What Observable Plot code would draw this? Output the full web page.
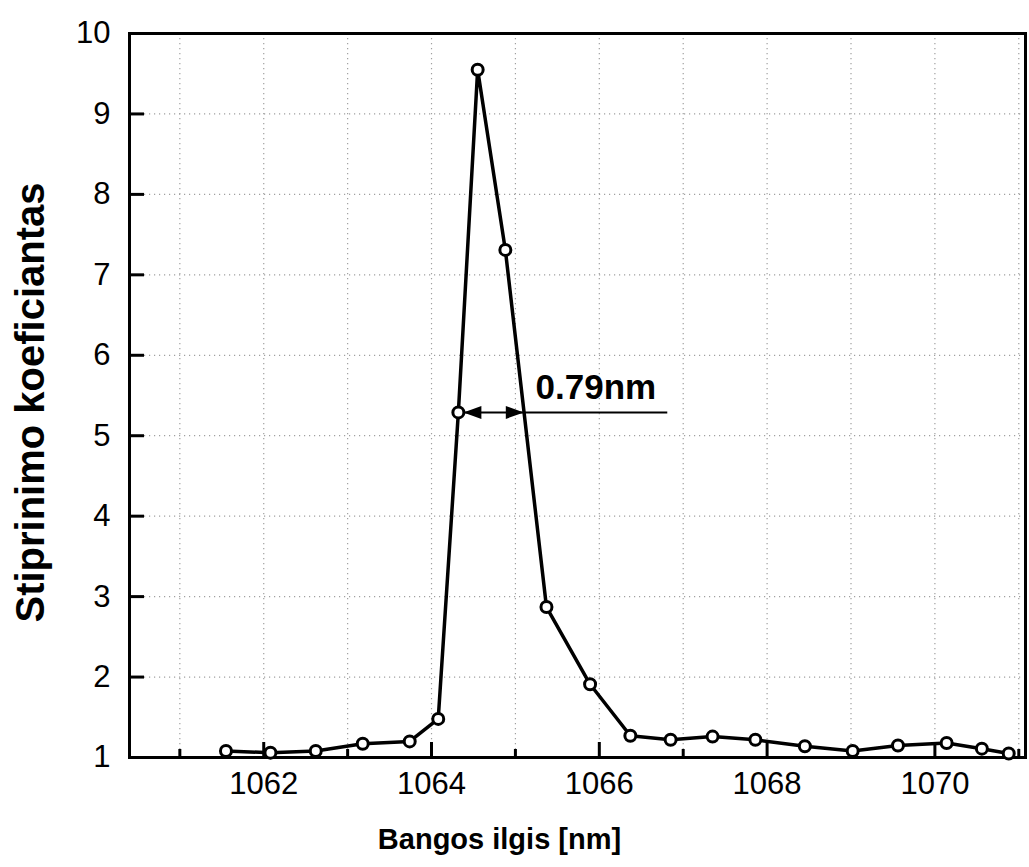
<!DOCTYPE html>
<html><head><meta charset="utf-8">
<script src="https://cdn.jsdelivr.net/npm/d3@7"></script>
<script src="https://cdn.jsdelivr.net/npm/@observablehq/plot@0.6"></script>
<style>
body{margin:0;background:#fff;}
#chart svg{display:block;}
</style>
</head><body><div id="chart"></div>
<script>
// ---- data ----
const wavelength = [1061.55, 1062.08, 1062.62, 1063.18, 1063.74, 1064.08, 1064.32, 1064.55, 1064.88, 1065.37, 1065.89, 1066.37, 1066.85, 1067.35, 1067.86, 1068.45, 1069.02, 1069.56, 1070.14, 1070.56, 1070.88];
const gain = [1.08, 1.06, 1.08, 1.17, 1.20, 1.48, 5.29, 9.55, 7.31, 2.87, 1.91, 1.27, 1.22, 1.26, 1.22, 1.14, 1.08, 1.15, 1.18, 1.11, 1.05];
const xTickLabels = [1062, 1064, 1066, 1068, 1070];
const xMinorTicks = [1061, 1063, 1065, 1067, 1069, 1071];
const xGridValues = [1061, 1062, 1063, 1064, 1065, 1066, 1067, 1068, 1069, 1070, 1071];
const yTickLabels = [1, 2, 3, 4, 5, 6, 7, 8, 9, 10];
const yGridValues = [2, 3, 4, 5, 6, 7, 8, 9];
const xDomain = [1060.4, 1071.08];
const yDomain = [1, 10];
const xTitle = "Bangos ilgis [nm]";
const yTitle = "Stiprinimo koeficiantas";
const fwhmLabel = "0.79nm";
const fwhmLevel = 5.29;
const fwhmArrow = [{x1: 1064.38, x2: 1065.10, y: fwhmLevel}];
const fwhmLeader = [{x1: 1065.10, x2: 1066.81, y: fwhmLevel}];
const fwhmText = [{x: 1065.24, y: fwhmLevel, label: fwhmLabel}];

// ---- build ----
const points = wavelength.map((x, i) => ({x, y: gain[i]}));
const W = 1029, H = 867, mL = 129, mT = 33, mR = 4, mB = 110;
const innerW = W - mL - mR, innerH = H - mT - mB;
const font = "'Liberation Sans', Arial, sans-serif";

const chart = Plot.plot({
  width: W, height: H,
  marginLeft: mL, marginTop: mT, marginRight: mR, marginBottom: mB,
  style: {fontFamily: font, color: "black", background: "white", overflow: "visible"},
  x: {domain: xDomain},
  y: {domain: yDomain},
  marks: [
    Plot.ruleX(xGridValues, {x: d => d, stroke: "#a0a0a0", strokeWidth: 1.2, strokeDasharray: "1.2,3.8"}),
    Plot.ruleY(yGridValues, {y: d => d, stroke: "#a0a0a0", strokeWidth: 1.2, strokeDasharray: "1.2,3.8"}),
    Plot.tickX(xTickLabels, {x: d => d, stroke: "black", strokeWidth: 3, insetTop: innerH - 15}),
    Plot.tickX(xMinorTicks, {x: d => d, stroke: "black", strokeWidth: 3, insetTop: innerH - 8}),
    Plot.tickY(yTickLabels, {y: d => d, stroke: "black", strokeWidth: 3, insetRight: innerW - 15}),
    Plot.axisX({ticks: xTickLabels, tickSize: 0, tickPadding: 14, fontSize: 31, tickFormat: d => String(d), label: null}),
    Plot.axisY({ticks: yTickLabels, tickSize: 0, tickPadding: 19, fontSize: 31, tickFormat: d => String(d), label: null}),
    Plot.frame({stroke: "black", strokeWidth: 3}),
    Plot.line(points, {x: "x", y: "y", stroke: "black", strokeWidth: 3.5}),
    Plot.link(fwhmArrow, {x1: "x1", x2: "x2", y1: "y", y2: "y", stroke: "black", strokeWidth: 2, markerStart: "arrow", markerEnd: "arrow"}),
    Plot.link(fwhmLeader, {x1: "x1", x2: "x2", y1: "y", y2: "y", stroke: "black", strokeWidth: 2}),
    Plot.text(fwhmText, {x: "x", y: "y", text: "label", textAnchor: "start", lineAnchor: "middle", dy: -25, fontSize: 35, fontWeight: "bold", fill: "black"}),
    Plot.dot(points, {x: "x", y: "y", r: 5.5, fill: "white", stroke: "black", strokeWidth: 3}),
    Plot.text([xTitle], {frameAnchor: "bottom", text: d => d, lineAnchor: "top", dy: 71, dx: -78, fontSize: 29, fontWeight: "bold", fill: "black"}),
    Plot.text([yTitle], {frameAnchor: "left", text: d => d, rotate: -90, lineAnchor: "middle", textAnchor: "middle", dx: -98, dy: 7, fontSize: 40, fontWeight: "bold", fill: "black"})
  ]
});

// filled triangular arrowheads
chart.querySelectorAll("marker").forEach(m => {
  m.setAttribute("viewBox", "-20 -8 22 16");
  m.setAttribute("markerUnits", "userSpaceOnUse");
  m.setAttribute("markerWidth", "22");
  m.setAttribute("markerHeight", "16");
  m.setAttribute("orient", "auto-start-reverse");
  m.setAttribute("fill", "black");
  m.setAttribute("stroke", "none");
  const p = m.querySelector("path");
  if (p) p.setAttribute("d", "M-18,-6.5L0,0L-18,6.5Z");
});

document.getElementById("chart").appendChild(chart);
</script>
</body></html>
